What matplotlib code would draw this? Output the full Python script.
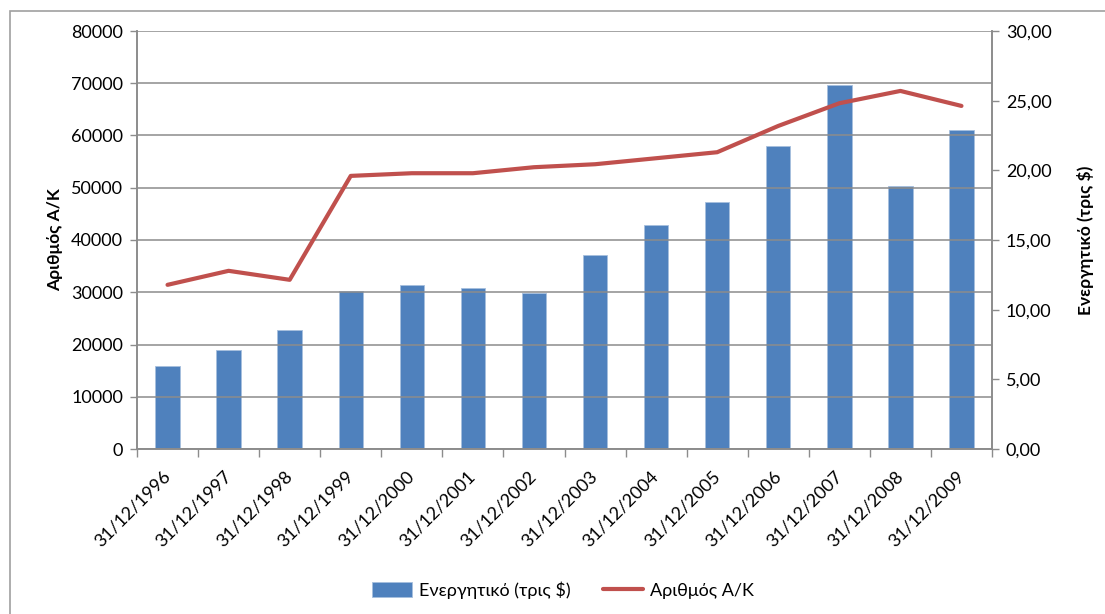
import matplotlib.pyplot as plt
from matplotlib.patches import Rectangle
from matplotlib.ticker import FuncFormatter
import numpy as np

plt.rcParams['font.family'] = ['Lato', 'DejaVu Sans']

dates = ['31/12/1996', '31/12/1997', '31/12/1998', '31/12/1999', '31/12/2000',
         '31/12/2001', '31/12/2002', '31/12/2003', '31/12/2004', '31/12/2005',
         '31/12/2006', '31/12/2007', '31/12/2008', '31/12/2009']
# Ενεργητικό (τρις $) - right axis
assets = [5.93, 7.12, 8.56, 11.36, 11.76, 11.57, 11.23, 13.94, 16.11, 17.76,
          21.77, 26.13, 18.89, 22.92]
# Αριθμός Α/Κ - left axis
funds = [31420, 34100, 32380, 52270, 52780, 52780, 53930, 54500, 55650, 56800,
         61830, 66170, 68530, 65660]

blue = '#4f81bd'
red = '#c0504d'
grey = '#8c8c8c'

fig = plt.figure(figsize=(11.05, 6.14), dpi=100)
ax = fig.add_axes([137/1105, 1-449/614, (992-137)/1105, (449-31)/614])
ax2 = ax.twinx()

x = np.arange(len(dates))
bars = ax2.bar(x, assets, width=0.4, color=blue, edgecolor='#a7bfde', linewidth=0.6,
               label='Ενεργητικό (τρις $)', zorder=2)
line, = ax.plot(x, funds, color=red, linewidth=3, label='Αριθμός Α/Κ',
                solid_capstyle='round', zorder=5)

ax.set_zorder(ax2.get_zorder() + 1)
ax.patch.set_visible(False)

ax.set_xlim(-0.5, len(dates) - 0.5)
ax.set_ylim(0, 80000)
ax.set_yticks(np.arange(0, 80001, 10000))
ax2.set_ylim(0, 30)
ax2.set_yticks(np.arange(0, 31, 5))
ax2.yaxis.set_major_formatter(FuncFormatter(lambda v, p: f'{v:.2f}'.replace('.', ',')))

ax.yaxis.grid(True, color=grey, linewidth=1.1)
ax.set_axisbelow(True)
ax2.set_axisbelow(True)

for a in (ax, ax2):
    a.spines['top'].set_visible(False)
    for s in ('left', 'right', 'bottom'):
        a.spines[s].set_color(grey)
        a.spines[s].set_linewidth(1.2)
    a.tick_params(axis='y', colors=grey, labelcolor='black', labelsize=13,
                  length=5, width=1, direction='out', pad=5)

ax.set_xticks(x)
ax.set_xticklabels(dates, rotation=45, ha='right', va='center', rotation_mode='anchor',
                   fontsize=13)
ax.set_xticks(np.arange(-0.5, len(dates), 1), minor=True)
ax.tick_params(axis='x', which='major', length=0, pad=18)
ax.tick_params(axis='x', which='minor', length=6, width=1, colors=grey)
ax2.tick_params(axis='x', length=0)

ax.set_ylabel('Αριθμός Α/Κ', fontsize=12.5, fontweight='bold', labelpad=6)
ax2.set_ylabel('Ενεργητικό (τρις $)', fontsize=12.5, fontweight='bold', labelpad=18)

fig.legend([bars, line], ['Ενεργητικό (τρις $)', 'Αριθμός Α/Κ'], loc='center',
           bbox_to_anchor=(563/1105, 1-590/614), ncol=2, frameon=False, fontsize=13,
           handlelength=2.2, handleheight=0.9, columnspacing=1.8, handletextpad=0.4)

fig.patches.append(Rectangle((10/1105, -0.1), 1.2, 1.1 - 11/614,
                             transform=fig.transFigure, fill=False,
                             edgecolor='#a0a0a0', linewidth=1.2))

fig.savefig('out.png', dpi=100)
